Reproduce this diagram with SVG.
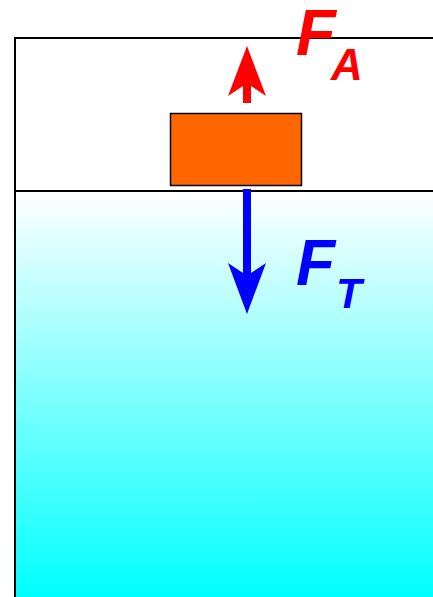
<svg xmlns="http://www.w3.org/2000/svg" width="433" height="597" viewBox="0 0 433 597">
<defs>
<linearGradient id="water" x1="0" y1="0" x2="0" y2="1">
<stop offset="0" stop-color="#ffffff"/>
<stop offset="1" stop-color="#00ffff"/>
</linearGradient>
<style>
.line{stroke:#000;stroke-width:2;fill:none}
.lbl{font-family:"Liberation Sans",Arial,sans-serif;font-weight:bold;font-style:italic}
</style>
</defs>
<rect width="433" height="597" fill="#fff"/>
<g id="water-body">
<rect x="15" y="191" width="418" height="406" fill="url(#water)"/>
</g>
<g id="container">
<path class="line" d="M15,597 V38 H433"/>
<path class="line" d="M15,191 H433"/>
</g>
<g id="block">
<rect x="170.5" y="113.5" width="131" height="72" fill="#ff6600" stroke="#000" stroke-width="1.5"/>
</g>
<g id="connectors">
<path id="arrow-FA" d="M243,103 V86 L228,96 L247,46 L266,96 L251,86 V103 Z" fill="#ff0000"/>
<path id="arrow-FT" d="M243,189 V273 L228,263 L247,314 L266,263 L251,273 V189 Z" fill="#0000ff"/>
</g>
<g id="label-FA" fill="#ff0000">
<text class="lbl" x="296" y="55" font-size="65">F</text>
<text class="lbl" x="331" y="80" font-size="44">A</text>
</g>
<g id="label-FT" fill="#0000ff">
<text class="lbl" x="296" y="285" font-size="64">F</text>
<text class="lbl" x="336" y="308" font-size="42">T</text>
</g>
</svg>
